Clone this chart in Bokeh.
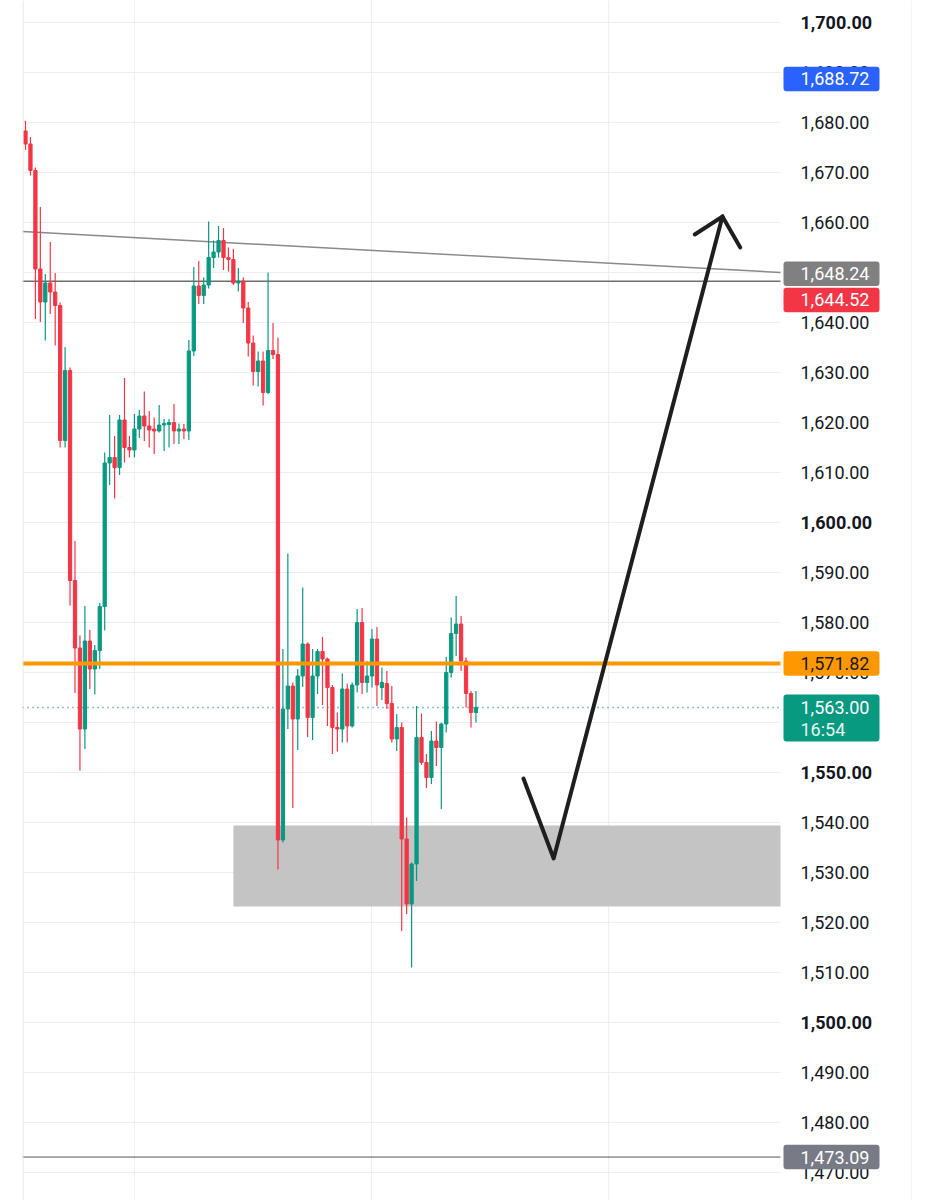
from bokeh.plotting import figure
from bokeh.models import Range1d, Span
from bokeh.core.properties import value
from bokeh.embed import file_html
from bokeh.resources import INLINE

# ---- candle data (price) ----
opens = [1678.3, 1675.7, 1670.4, 1650.7, 1644.1, 1647.9, 1646.1, 1643.4, 1616.4, 1630.4,
         1588.4, 1574.9, 1558.7, 1576.3, 1570.7, 1574.4, 1583.2, 1611.9, 1613.0, 1611.0,
         1620.5, 1615.0, 1614.5, 1618.7, 1621.3, 1619.3, 1618.7, 1618.3, 1619.5, 1619.6,
         1620.0, 1618.3, 1618.7, 1618.3, 1634.3, 1647.3, 1645.4, 1647.5, 1653.0, 1654.1,
         1656.4, 1653.0, 1652.6, 1647.9, 1648.3, 1642.9, 1635.9, 1630.2, 1632.3, 1626.0,
         1634.4, 1633.6, 1536.5, 1562.7, 1567.3, 1560.7, 1569.3, 1575.7, 1561.0, 1569.3,
         1574.2, 1572.7, 1567.0, 1559.0, 1558.7, 1566.7, 1559.3, 1567.5, 1580.0, 1568.0,
         1569.3, 1576.7, 1567.0, 1567.8, 1563.8, 1556.7, 1559.0, 1536.7, 1523.7, 1531.7,
         1557.0, 1552.0, 1549.0, 1556.3, 1555.0, 1559.7, 1570.0, 1577.8, 1579.7, 1572.3,
         1565.8, 1562.0]
highs = [1680.3, 1677.1, 1671.0, 1663.1, 1649.7, 1656.1, 1649.9, 1644.0, 1635.1, 1631.0,
         1596.3, 1577.4, 1583.3, 1578.5, 1575.5, 1583.9, 1614.0, 1621.5, 1617.3, 1621.5,
         1628.9, 1617.3, 1621.7, 1622.5, 1626.2, 1622.3, 1621.0, 1623.5, 1620.7, 1620.7,
         1623.7, 1619.8, 1619.7, 1636.5, 1651.1, 1652.3, 1649.0, 1660.2, 1656.4, 1659.3,
         1658.9, 1655.0, 1654.7, 1650.9, 1649.0, 1644.1, 1637.4, 1634.2, 1634.2, 1650.0,
         1639.9, 1637.0, 1574.7, 1593.8, 1568.0, 1570.7, 1587.0, 1576.0, 1574.7, 1574.7,
         1577.1, 1573.0, 1567.5, 1562.0, 1569.8, 1567.8, 1568.0, 1582.7, 1582.9, 1572.3,
         1578.7, 1579.1, 1571.0, 1570.3, 1567.3, 1561.7, 1560.0, 1541.0, 1532.0, 1563.3,
         1561.8, 1553.7, 1558.3, 1560.2, 1560.0, 1573.1, 1581.0, 1585.3, 1581.3, 1573.0,
         1566.3, 1566.3]
lows = [1674.5, 1669.4, 1640.7, 1640.1, 1636.4, 1641.7, 1635.4, 1615.0, 1615.0, 1583.4,
        1565.9, 1550.4, 1554.7, 1566.7, 1565.6, 1570.7, 1578.4, 1607.5, 1604.8, 1609.5,
        1612.0, 1613.0, 1613.0, 1616.9, 1616.3, 1615.0, 1613.7, 1618.0, 1614.3, 1615.0,
        1615.7, 1615.7, 1616.7, 1616.5, 1633.3, 1643.7, 1643.7, 1646.8, 1650.9, 1653.0,
        1650.5, 1650.2, 1647.5, 1646.2, 1639.9, 1633.2, 1627.4, 1627.2, 1623.4, 1625.7,
        1632.7, 1530.6, 1536.0, 1558.7, 1542.9, 1554.5, 1567.1, 1557.1, 1556.5, 1565.7,
        1563.5, 1559.3, 1553.7, 1554.2, 1556.0, 1556.0, 1559.0, 1566.0, 1565.7, 1566.0,
        1567.0, 1563.3, 1564.5, 1562.7, 1556.0, 1554.3, 1518.3, 1521.7, 1511.0, 1528.3,
        1551.5, 1546.9, 1547.7, 1551.3, 1542.7, 1558.0, 1569.0, 1573.3, 1570.3, 1563.0,
        1559.0, 1560.0]
closes = [1675.7, 1670.4, 1650.7, 1644.1, 1647.9, 1646.1, 1643.4, 1616.4, 1630.4, 1588.4,
          1574.9, 1558.7, 1576.3, 1570.7, 1574.4, 1583.2, 1611.9, 1613.0, 1611.0, 1620.5,
          1615.0, 1614.5, 1618.7, 1621.3, 1619.3, 1618.5, 1618.3, 1619.5, 1619.8, 1620.0,
          1618.3, 1618.7, 1618.3, 1634.3, 1647.3, 1645.4, 1647.5, 1653.0, 1654.1, 1656.4,
          1653.0, 1652.6, 1647.9, 1648.3, 1642.9, 1635.9, 1630.2, 1632.3, 1626.0, 1634.4,
          1633.6, 1536.5, 1562.7, 1567.3, 1560.7, 1569.3, 1575.7, 1561.0, 1569.3, 1574.2,
          1572.7, 1567.0, 1559.0, 1558.7, 1566.7, 1559.3, 1567.5, 1580.0, 1568.0, 1569.3,
          1576.7, 1567.5, 1568.0, 1563.8, 1556.7, 1559.0, 1536.7, 1523.7, 1531.7, 1557.0,
          1552.0, 1549.0, 1556.3, 1555.0, 1559.7, 1570.0, 1577.8, 1579.7, 1572.3, 1565.8,
          1562.0, 1563.0]

# ---- price scale ticks ----
tick_values = list(range(1470, 1701, 10))
bold_ticks = [1700, 1600, 1550, 1500]
time_grid = [22.0, 69.9, 117.8]

# ---- price levels / badges ----
trend_prices = [1658.2, 1650.0]
level_gray = 1648.24
level_red = 1644.52
level_blue = 1688.72
level_orange = 1571.82
last_price = 1563.00
countdown = "16:54"
level_bottom = 1473.09
zone_prices = [1539.4, 1523.2]
zone_start = 42.0
arrow_x = [100.6, 106.7, 140.8]
arrow_y = [1548.8, 1532.8, 1661.2]
head_x = [135.2, 140.8, 144.4]
head_y = [1657.6, 1661.2, 1655.0]

UP = "#089981"
DOWN = "#f23645"
GRID = "#eceef2"
PX = 4.95                     # pixels per bar
X0 = -0.606
X1 = X0 + 890 / PX            # frame right (px 912)
XA = X0 + 758 / PX            # end of plotting pane (px 780)
XT = X0 + 778 / PX            # price text start (px 800)
XBL = X0 + 761 / PX           # badge left (px 783)
XBR = X0 + 857 / PX           # badge right (px 879)
Y1 = 1704.4
Y0 = Y1 - 240.0
FONT = value("Roboto")

p = figure(width=912, height=1200, x_range=Range1d(X0, X1), y_range=Range1d(Y0, Y1),
           output_backend="svg", toolbar_location=None,
           x_axis_location=None, y_axis_location=None,
           min_border_left=22, min_border_right=0, min_border_top=0, min_border_bottom=0)
p.outline_line_color = None
p.background_fill_color = "white"
p.border_fill_color = "white"
p.xgrid.visible = False
p.ygrid.visible = False

# grid
p.segment(x0=[X0] * len(tick_values), x1=[XA] * len(tick_values), y0=tick_values, y1=tick_values,
          line_color=GRID, line_width=1)
p.segment(x0=time_grid, x1=time_grid, y0=[Y0] * len(time_grid), y1=[Y1] * len(time_grid),
          line_color=GRID, line_width=1)
p.add_layout(Span(location=X0 + 0.1, dimension="height", line_color="#dfe1e6", line_width=1))
p.add_layout(Span(location=X1 - 0.1, dimension="height", line_color="#e6e8ec", line_width=1))

# zone
p.quad(left=[zone_start], right=[XA], top=[zone_prices[0]], bottom=[zone_prices[1]],
       fill_color="#c4c4c4", line_color=None)

# lines
p.line([X0, XA], trend_prices, line_color="#8a8a8a", line_width=1.5)
p.segment(x0=[X0], x1=[XA], y0=[level_gray], y1=[level_gray], line_color="#6e6e6e", line_width=1.5)
p.segment(x0=[X0], x1=[XA], y0=[level_bottom], y1=[level_bottom], line_color="#555555", line_width=1)
p.segment(x0=[X0], x1=[XA], y0=[last_price], y1=[last_price], line_color=UP, line_width=1.5,
          line_dash="1 4")

# candles
idx = list(range(len(opens)))
colors = [UP if c >= o else DOWN for o, c in zip(opens, closes)]
tops = [max(o, c) for o, c in zip(opens, closes)]
bots = [min(o, c) for o, c in zip(opens, closes)]
p.segment(x0=idx, y0=highs, x1=idx, y1=lows, line_color=colors, line_width=1.2)
p.vbar(x=idx, width=0.66, top=tops, bottom=bots, fill_color=colors, line_color=colors, line_width=1)

p.segment(x0=[X0], x1=[XA], y0=[level_orange], y1=[level_orange], line_color="#ff9800", line_width=4)

# arrow
p.line(arrow_x, arrow_y, line_color="#1e1e1e", line_width=4, line_join="round", line_cap="round")
p.line(head_x, head_y, line_color="#1e1e1e", line_width=4, line_join="miter", line_cap="round")

# price scale labels
normal = [t for t in tick_values if t not in bold_ticks]
p.text(x=[XT] * len(normal), y=normal, text=[f"{t:,.2f}" for t in normal],
       text_font=FONT, text_font_size=value("18px"), text_color="#131722",
       text_align="left", text_baseline="middle")
p.text(x=[XT] * len(bold_ticks), y=bold_ticks, text=[f"{t:,.2f}" for t in bold_ticks],
       text_font=FONT, text_font_size=value("18px"), text_color="#131722", text_font_style="bold",
       text_align="left", text_baseline="middle")

# badges
HALF = 2.45
badges = [
    (level_blue, [f"{level_blue:,.2f}"], "#2962ff", "white"),
    (level_gray + 1.5, [f"{level_gray:,.2f}"], "#808080", "white"),
    (level_red, [f"{level_red:,.2f}"], "#f23645", "white"),
    (level_orange, [f"{level_orange:,.2f}"], "#ff9800", "#1a1a1a"),
    (level_bottom, [f"{level_bottom:,.2f}"], "#787b86", "white"),
]
for y, texts, bg, fg in badges:
    p.quad(left=[XBL], right=[XBR], top=[y + HALF], bottom=[y - HALF], fill_color=bg, line_color=None,
           border_radius=3)
    p.text(x=[XT], y=[y], text=texts, text_font=FONT, text_font_size=value("18px"), text_color=fg,
           text_align="left", text_baseline="middle")

p.quad(left=[XBL], right=[XBR], top=[last_price + 2.6], bottom=[last_price - 6.8], fill_color=UP,
       line_color=None, border_radius=3)
p.text(x=[XT, XT], y=[last_price, last_price - 4.4], text=[f"{last_price:,.2f}", countdown],
       text_font=FONT, text_font_size=value("18px"), text_color=["white", "#e6f5f1"],
       text_align="left", text_baseline="middle")

open("out.html", "w").write(file_html(p, INLINE))
